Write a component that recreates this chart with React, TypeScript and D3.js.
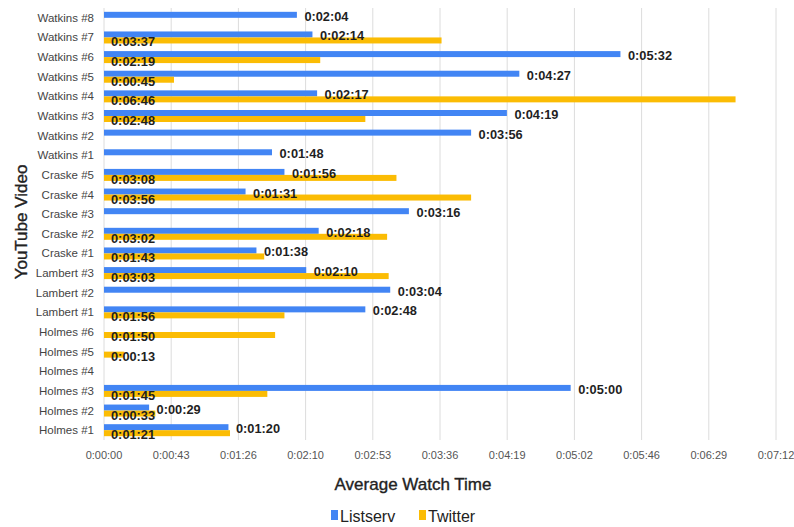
import React from "react";
import * as d3 from "d3";

const categories = [
  "Watkins #8", "Watkins #7", "Watkins #6", "Watkins #5", "Watkins #4", "Watkins #3",
  "Watkins #2", "Watkins #1", "Craske #5", "Craske #4", "Craske #3", "Craske #2",
  "Craske #1", "Lambert #3", "Lambert #2", "Lambert #1", "Holmes #6", "Holmes #5",
  "Holmes #4", "Holmes #3", "Holmes #2", "Holmes #1",
];

// seconds; null = no data
const listserv: (number | null)[] = [
  124, 134, 332, 267, 137, 259, 236, 108, 116, 91, 196, 138,
  98, 130, 184, 168, null, null, null, 300, 29, 80,
];
const twitter: (number | null)[] = [
  null, 217, 139, 45, 406, 168, null, null, 188, 236, null, 182,
  103, 183, null, 116, 110, 13, null, 105, 33, 81,
];

const seriesNames = ["Listserv", "Twitter"];
const seriesColors = ["#4285F4", "#FBBC04"];
const tickStep = 43.2;
const xMax = 432;

const W = 794;
const H = 527;
const FONT = "'Liberation Sans', Arial, sans-serif";

function fmt(s: number): string {
  const t = Math.round(s);
  const h = Math.floor(t / 3600);
  const m = Math.floor((t % 3600) / 60);
  const sec = t % 60;
  return `${h}:${String(m).padStart(2, "0")}:${String(sec).padStart(2, "0")}`;
}

export default function App() {
  const x = d3.scaleLinear().domain([0, xMax]).range([104, 776]);
  const y0 = d3
    .scaleBand<string>()
    .domain(categories)
    .range([8, 440])
    .paddingInner(0.389)
    .paddingOuter(0.1945);
  const y1 = d3
    .scaleBand<string>()
    .domain(seriesNames)
    .range([0, y0.bandwidth()]);
  const ticks = d3.range(0, 11).map((i) => i * tickStep);
  const series = [listserv, twitter];

  return (
    <svg
      width={W}
      height={H}
      style={{ position: "absolute", left: 0, top: 0, background: "#fff" }}
      fontFamily={FONT}
    >
      {ticks.map((t, i) => (
        <g key={"t" + i}>
          <line x1={x(t)} x2={x(t)} y1={8} y2={440} stroke="#dcdcdc" strokeWidth={1} />
          <text x={x(t)} y={459} textAnchor="middle" fontSize={11} fill="#555">
            {fmt(t)}
          </text>
        </g>
      ))}
      {categories.map((c) => {
        const yc = (y0(c) as number) + y0.bandwidth() / 2;
        return (
          <text key={"c" + c} x={94} y={yc + 4} textAnchor="end" fontSize={11.5} fill="#444">
            {c}
          </text>
        );
      })}
      {series.map((vals, si) =>
        vals.map((v, i) => {
          if (v === null) return null;
          const c = categories[i];
          const yy = (y0(c) as number) + (y1(seriesNames[si]) as number);
          const bh = y1.bandwidth();
          return (
            <rect
              key={"b" + si + "-" + i}
              x={x(0)}
              y={yy}
              width={x(v) - x(0)}
              height={bh}
              fill={seriesColors[si]}
            />
          );
        })
      )}
      {series.map((vals, si) =>
        vals.map((v, i) => {
          if (v === null) return null;
          const c = categories[i];
          const yy = (y0(c) as number) + (y1(seriesNames[si]) as number) + y1.bandwidth() / 2;
          const lx = si === 0 ? x(v) + 7.5 : x(0) + 7;
          return (
            <text
              key={"l" + si + "-" + i}
              x={lx}
              y={yy + 6}
              fontSize={12.8}
              fontWeight="bold"
              fill="#1f1f1f"
            >
              {fmt(v)}
            </text>
          );
        })
      )}
      <text
        transform={`translate(27,222) rotate(-90)`}
        textAnchor="middle"
        fontSize={17}
        fill="#222"
        stroke="#222"
        strokeWidth={0.35}
      >
        YouTube Video
      </text>
      <text
        x={413}
        y={490}
        textAnchor="middle"
        fontSize={17}
        fill="#222"
        stroke="#222"
        strokeWidth={0.35}
      >
        Average Watch Time
      </text>
      <g>
        <rect x={331} y={510} width={7} height={10} fill={seriesColors[0]} />
        <text x={340} y={521.5} fontSize={16} fill="#222">
          {seriesNames[0]}
        </text>
        <rect x={419} y={510} width={7} height={10} fill={seriesColors[1]} />
        <text x={428} y={521.5} fontSize={16} fill="#222">
          {seriesNames[1]}
        </text>
      </g>
    </svg>
  );
}
